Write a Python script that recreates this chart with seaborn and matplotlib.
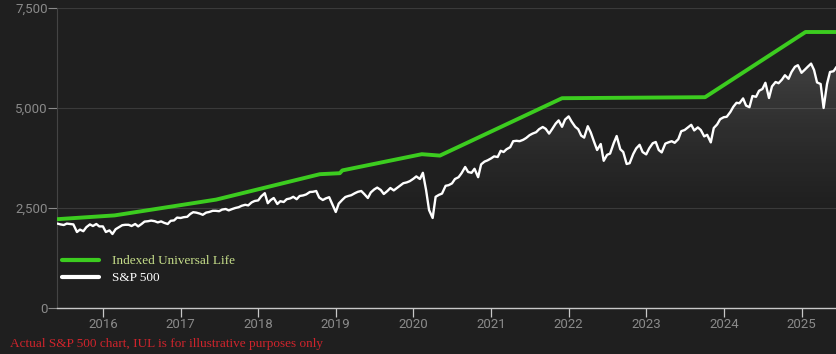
import numpy as np
import pandas as pd
import matplotlib
matplotlib.use("Agg")
import matplotlib.pyplot as plt
import matplotlib.dates as mdates
from matplotlib.ticker import FuncFormatter
import seaborn as sns

# S&P 500 at the 1st and 15th of each month
sp_2015 = [2110, 2090, 2075, 2110, 2100, 2090, 1900, 1960, 1920, 2020, 2090, 2050, 2100, 2040]
sp_2016 = [2040, 1900, 1940, 1850, 1970, 2015, 2070, 2080, 2080, 2050, 2100, 2040,
           2100, 2160, 2170, 2185, 2170, 2140, 2165, 2130, 2100, 2180, 2190, 2260]
sp_2017 = [2250, 2270, 2280, 2350, 2395, 2385, 2360, 2330, 2385, 2400, 2430, 2430,
           2420, 2460, 2475, 2440, 2475, 2500, 2520, 2555, 2580, 2565, 2640, 2675]
sp_2018 = [2690, 2790, 2870, 2620, 2700, 2750, 2600, 2670, 2650, 2720, 2740, 2780,
           2720, 2800, 2815, 2840, 2900, 2905, 2925, 2760, 2700, 2740, 2770, 2600]
sp_2019 = [2400, 2610, 2705, 2775, 2800, 2820, 2870, 2905, 2925, 2850, 2750, 2890,
           2965, 3010, 2950, 2850, 2925, 3000, 2940, 2995, 3065, 3120, 3140, 3170]
sp_2020 = [3230, 3290, 3225, 3380, 2950, 2450, 2250, 2780, 2830, 2860, 3055, 3070,
           3115, 3225, 3270, 3370, 3525, 3400, 3380, 3480, 3270, 3590, 3660, 3690]
sp_2021 = [3740, 3790, 3775, 3930, 3900, 3970, 4020, 4170, 4180, 4170, 4205, 4250,
           4320, 4360, 4395, 4470, 4525, 4480, 4360, 4470, 4610, 4690, 4530, 4710]
sp_2022 = [4790, 4660, 4530, 4470, 4310, 4260, 4545, 4390, 4150, 3950, 4100, 3680,
           3830, 3860, 4120, 4300, 3970, 3900, 3600, 3620, 3850, 3990, 4080, 3900]
sp_2023 = [3840, 3990, 4120, 4150, 3950, 3890, 4110, 4140, 4170, 4130, 4220, 4420,
           4450, 4510, 4580, 4440, 4515, 4450, 4290, 4330, 4140, 4500, 4590, 4720]
sp_2024 = [4770, 4780, 4900, 5030, 5130, 5120, 5240, 5060, 5020, 5300, 5280, 5430,
           5475, 5630, 5250, 5540, 5650, 5620, 5710, 5820, 5730, 5900, 6030, 6070]
sp_2025 = [5880, 5950, 6040, 6110, 5950, 5640, 5600, 5000, 5600, 5900, 5920, 6030]
sp_values = sp_2015 + sp_2016 + sp_2017 + sp_2018 + sp_2019 + sp_2020 + sp_2021 + sp_2022 + sp_2023 + sp_2024 + sp_2025

# Indexed Universal Life: breakpoints of the green line
iul_dates = ["2015-05-30", "2016-02-25", "2017-06-17", "2018-10-18", "2019-01-20", "2019-02-01",
             "2020-02-10", "2020-05-05", "2021-12-01", "2023-10-05", "2025-01-20", "2025-06-17"]
iul_values = [2220, 2315, 2710, 3345, 3370, 3440, 3845, 3810, 5245, 5270, 6900, 6900]

series_names = ["Indexed Universal Life", "S&P 500"]
y_ticks = [0, 2500, 5000, 7500]
footnote = "Actual S&P 500 chart, IUL is for illustrative purposes only"

BG = "#1f1f1f"
GREEN = "#3ccc1f"

sp_dates = pd.date_range("2015-06-01", "2025-06-15", freq="SMS")
assert len(sp_dates) == len(sp_values)

df = pd.concat([
    pd.DataFrame({"date": pd.to_datetime(iul_dates), "value": iul_values, "series": series_names[0]}),
    pd.DataFrame({"date": sp_dates, "value": sp_values, "series": series_names[1]}),
])

sns.set_theme(style="dark", rc={
    "axes.facecolor": BG, "figure.facecolor": BG,
    "axes.edgecolor": "#444444", "grid.color": "#3a3a3a",
})
plt.rcParams["font.family"] = ["Roboto", "DejaVu Sans"]

fig = plt.figure(figsize=(8.37, 3.54), dpi=100)
ax = fig.add_axes([57 / 837, 46 / 354, 780 / 837, 300 / 354])

xmin, xmax = pd.Timestamp("2015-05-30"), pd.Timestamp("2025-06-17")

# soft gradient under the S&P line
poly = ax.fill_between(sp_dates, sp_values, 0, facecolor="none", edgecolor="none")
v = np.linspace(0, 7500, 300)
alpha = 0.14 * np.clip((v - 2200) / 3800, 0, None) ** 1.3
grad = np.zeros((300, 1, 4))
grad[..., :3] = 1.0
grad[:, 0, 3] = np.clip(alpha, 0, 0.2)
img = ax.imshow(grad, extent=[mdates.date2num(xmin), mdates.date2num(xmax), 0, 7500],
                origin="lower", aspect="auto", zorder=1)
img.set_clip_path(poly.get_paths()[0], transform=ax.transData)

sns.lineplot(data=df, x="date", y="value", hue="series", ax=ax,
             palette={series_names[0]: GREEN, series_names[1]: "white"},
             size="series", sizes={series_names[0]: 2.8, series_names[1]: 1.7},
             estimator=None, sort=False, zorder=3)

ax.set_xlim(xmin, xmax)
ax.set_ylim(0, 7500)
ax.set_yticks(y_ticks)
ax.yaxis.set_major_formatter(FuncFormatter(lambda val, pos: f"{int(val):,}"))
ax.xaxis.set_major_locator(mdates.YearLocator())
ax.xaxis.set_major_formatter(mdates.DateFormatter("%Y"))
ax.set_xlabel("")
ax.set_ylabel("")

ax.grid(axis="y", color="#3a3a3a", linewidth=0.8)
ax.grid(axis="x", visible=False)
for side in ["top", "right"]:
    ax.spines[side].set_visible(False)
ax.spines["left"].set_color("#444444")
ax.spines["left"].set_linewidth(0.8)
ax.spines["bottom"].set_color("#c8c8c8")
ax.spines["bottom"].set_linewidth(1.0)

ax.tick_params(axis="x", bottom=True, length=6.5, width=0.9, color="#c8c8c8",
               labelcolor="#8a8a8a", labelsize=9.5, pad=1)
ax.tick_params(axis="y", left=True, length=6.5, width=0.8, color="#8a8a8a",
               labelcolor="#8a8a8a", labelsize=9.5, pad=0)

handles, labels = ax.get_legend_handles_labels()
leg = ax.legend(handles, labels, loc="center left", bbox_to_anchor=(0.0, 0.128),
                frameon=False, handlelength=2.8, handletextpad=1.0, labelspacing=0.35,
                prop={"family": "Liberation Serif", "size": 9.5}, borderaxespad=0)
leg_colors = ["#c6de8a", "white"]
for txt, col in zip(leg.get_texts(), leg_colors):
    txt.set_color(col)
for line in leg.get_lines():
    line.set_linewidth(3.0)

fig.text(10 / 837, 1 - 344 / 354, footnote, color="#d0242c", fontsize=9.5,
         family="Liberation Serif", va="center", ha="left")

fig.savefig("out.png", dpi=100, facecolor=BG)
